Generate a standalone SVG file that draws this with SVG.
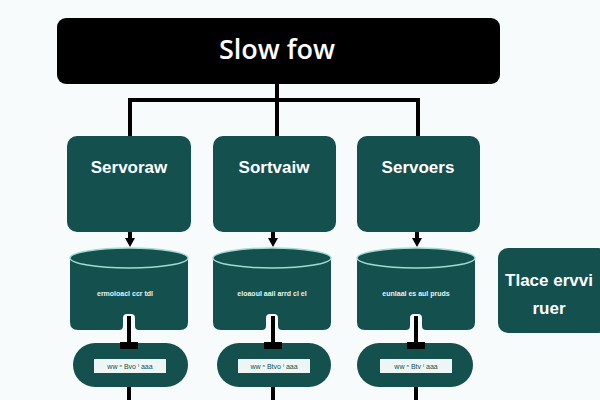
<svg xmlns="http://www.w3.org/2000/svg" width="600" height="400" viewBox="0 0 600 400">
<defs>
<style>
.bg{fill:#f7fbfb}
.teal{fill:#13504e}
.srvtxt{font-family:"Liberation Sans",Arial,sans-serif;font-weight:bold;font-size:17px;fill:#ffffff;text-anchor:middle}
.small{font-family:"Liberation Sans",Arial,sans-serif;font-weight:bold;font-size:7px;fill:#e6f4f2;text-anchor:middle}
.lbl{font-family:"Liberation Sans",Arial,sans-serif;font-size:7px;fill:#13504e;text-anchor:middle}
.conn{stroke:#000;stroke-width:4;fill:none}
.head{fill:#000}
.rim{fill:none;stroke:#9fdcd2;stroke-width:1.5}
</style>
<path id="cyl" d="M0,10 A59,10 0 0 1 118,10 L118,74 Q118,82 110,82 L69,82 Q65,82 65,78 L65,70 Q65,66 61,66 L57,66 Q53,66 53,70 L53,78 Q53,82 49,82 L8,82 Q0,82 0,74 Z"/>
</defs>
<rect class="bg" x="0" y="0" width="600" height="400"/>

<g id="connectors">
<path class="conn" d="M277,83 V100 M130,100 H418 M130,98 V137 M277,100 V137 M418,98 V137"/>
<path class="conn" d="M130,232 V240 M273,232 V240 M417,232 V240"/>
<path class="head" d="M125,238 H135 L130,247 Z M268,238 H278 L273,247 Z M412,238 H422 L417,247 Z"/>
<path class="conn" d="M129,316 V400 M273,316 V400 M416,316 V400"/>
</g>

<g id="title">
<rect x="57" y="18" width="443" height="66" rx="9" fill="#000"/>
<text x="277" y="59" font-family="'Open Sans','Liberation Sans',sans-serif" font-weight="600" font-size="27" fill="#fff" text-anchor="middle">Slow fow</text>
</g>

<g id="server1">
<rect class="teal" x="67" y="136" width="124" height="96" rx="10"/>
<text class="srvtxt" x="129" y="173">Servoraw</text>
</g>
<g id="server2">
<rect class="teal" x="213" y="136" width="123" height="96" rx="10"/>
<text class="srvtxt" x="274" y="173">Sortvaiw</text>
</g>
<g id="server3">
<rect class="teal" x="357" y="136" width="123" height="96" rx="10"/>
<text class="srvtxt" x="418" y="173">Servoers</text>
</g>

<g id="db1" transform="translate(70,248)">
<use href="#cyl" class="teal"/>
<ellipse class="rim" cx="59" cy="10" rx="59" ry="10"/>
<text class="small" x="55" y="48">ermoloacl ccr tdl</text>
</g>
<g id="db2" transform="translate(213,248)">
<use href="#cyl" class="teal"/>
<ellipse class="rim" cx="59" cy="10" rx="59" ry="10"/>
<text class="small" x="59" y="48">eloaoul aail arrd cl el</text>
</g>
<g id="db3" transform="translate(357,248)">
<use href="#cyl" class="teal"/>
<ellipse class="rim" cx="59" cy="10" rx="59" ry="10"/>
<text class="small" x="59" y="48">eunlaal es aul pruds</text>
</g>

<g id="side">
<rect class="teal" x="498" y="248" width="110" height="85" rx="10"/>
<text class="srvtxt" x="549" y="286" font-size="15">Tlace ervvi</text>
<text class="srvtxt" x="549" y="314" font-size="12">ruer</text>
</g>

<g id="pill1">
<rect class="teal" x="73" y="343" width="115" height="44" rx="22"/>
<rect x="120" y="342" width="18" height="7" fill="#000"/>
<rect x="94" y="359" width="72" height="14" fill="#eef6f5"/>
<text class="lbl" x="130" y="369">ww ⁿ Bvo ˡ aaa</text>
</g>
<g id="pill2">
<rect class="teal" x="217" y="343" width="114" height="44" rx="22"/>
<rect x="264" y="342" width="18" height="7" fill="#000"/>
<rect x="238" y="359" width="72" height="14" fill="#eef6f5"/>
<text class="lbl" x="274" y="369">ww ⁿ Btvo ˡ aaa</text>
</g>
<g id="pill3">
<rect class="teal" x="357" y="343" width="116" height="44" rx="22"/>
<rect x="407" y="342" width="18" height="7" fill="#000"/>
<rect x="380" y="359" width="72" height="14" fill="#eef6f5"/>
<text class="lbl" x="416" y="369">ww ⁿ Btv ˡ aaa</text>
</g>
</svg>
